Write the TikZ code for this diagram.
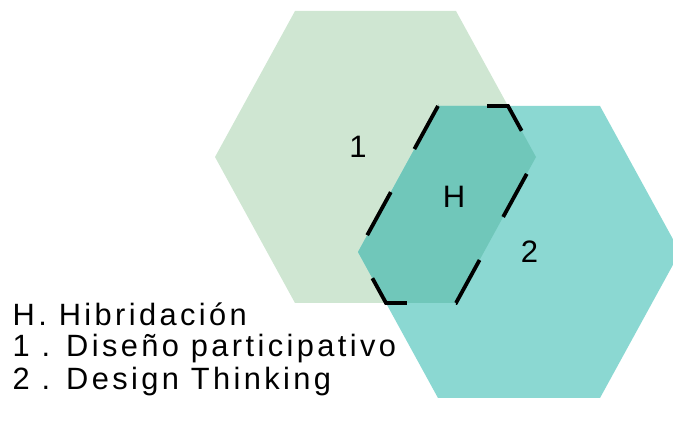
\documentclass[tikz,border=0pt]{standalone}
\usepackage{fontspec}
\setmainfont{Liberation Sans}
\newfontfamily\legendfont[LetterSpace=11]{Liberation Sans}
\definecolor{hexone}{HTML}{CFE6D2}
\definecolor{hextwo}{HTML}{8BD8D2}
\definecolor{hexboth}{HTML}{70C7BA}
\tikzset{
  lbl/.style={inner sep=0pt, font=\fontsize{31}{33}\selectfont},
  legend/.style={inner sep=0pt, anchor=base west, font=\fontsize{30.8}{33}\selectfont\legendfont},
  overlap/.style={fill=hexboth, draw=black, line width=3.8pt, dash pattern=on 49.1pt off 49.1pt, line join=miter}
}
\begin{document}
\begin{tikzpicture}[x=1pt,y=-1pt]
\useasboundingbox (0,0) rectangle (673,422);
\clip (0,0) rectangle (673,422);
\fill[hexone] (215,157) -- (295,11) -- (456,11) -- (536,157) -- (456,303) -- (295,303) -- cycle;
\fill[hextwo] (358,252) -- (438,106) -- (600,106) -- (680,252) -- (600,398) -- (438,398) -- cycle;
\path[overlap] (438,106) -- (358,252) -- (386,303) -- (456,303) -- (536,157) -- (508,106) -- cycle;
\node[lbl] (one) at (358,146.5) {1};
\node[lbl] (h) at (454,196.5) {H};
\node[lbl] (two) at (529.5,252) {2};
\node[legend] (l1) at (12.5,325.7) {H. Hibridación};
\node[legend] (l2) at (12.5,356.7) {1 . Diseño participativo};
\node[legend] (l3) at (12.5,390) {2 . Design Thinking};
\end{tikzpicture}
\end{document}
